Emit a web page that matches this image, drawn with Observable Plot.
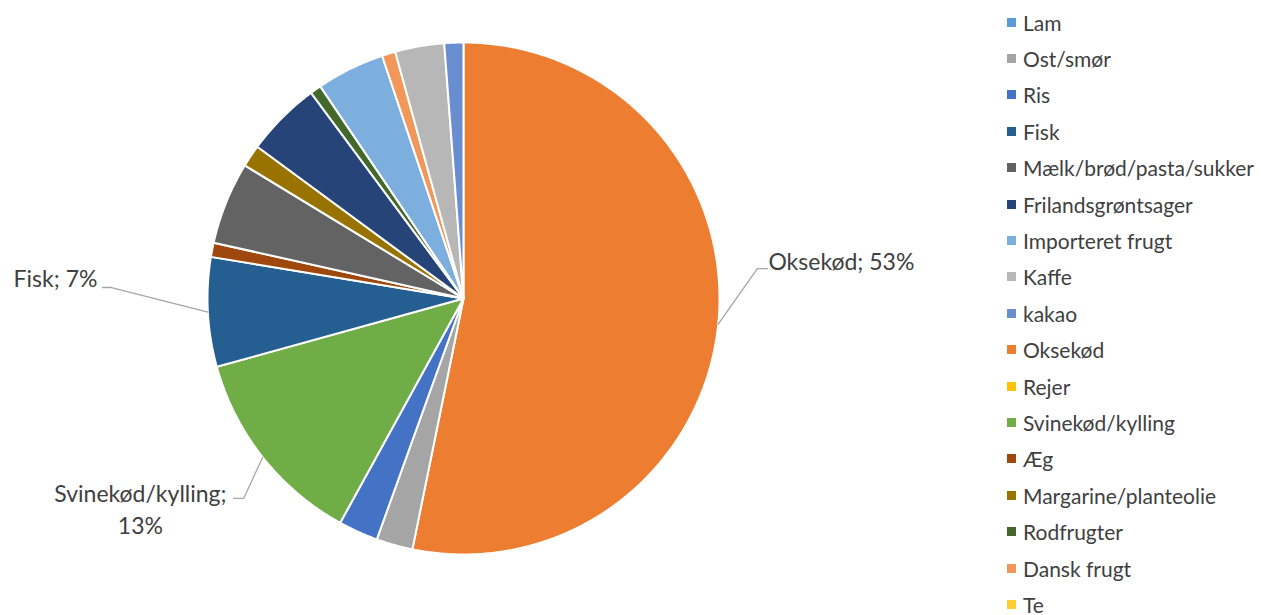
<!DOCTYPE html>
<html><head><meta charset="utf-8">
<script src="https://cdn.jsdelivr.net/npm/d3@7"></script>
<script src="https://cdn.jsdelivr.net/npm/@observablehq/plot@0.6"></script>
<style>
body{margin:0;background:#fff;}
#wrap{position:relative;width:1261px;height:615px;overflow:hidden;font-family:Lato,"Liberation Sans",sans-serif;}
#legend{position:absolute;left:1007px;top:4px;}
.item{display:flex;align-items:center;height:36.4px;color:#404040;font-size:21px;white-space:nowrap;}
.sw{width:9px;height:9px;margin-right:7px;flex:none;}
</style></head>
<body>
<div id="wrap"><div id="chart"></div><div id="legend"></div></div>
<script>
// Legend order (categories) and colours
const categories = ["Lam","Ost/smør","Ris","Fisk","Mælk/brød/pasta/sukker","Frilandsgrøntsager","Importeret frugt","Kaffe","kakao","Oksekød","Rejer","Svinekød/kylling","Æg","Margarine/planteolie","Rodfrugter","Dansk frugt","Te"];
const colors = ["#5B9BD5","#A5A5A5","#4472C4","#255E91","#636363","#264478","#7CAFDD","#B7B7B7","#698ED0","#ED7D31","#FFC000","#70AD47","#9E480E","#997300","#43682B","#F1975A","#FFCD33"];
// Slices in drawing order (clockwise from 12 o'clock) and their shares (%)
const sliceNames = ["Oksekød","Ost/smør","Ris","Svinekød/kylling","Fisk","Æg","Mælk/brød/pasta/sukker","Margarine/planteolie","Frilandsgrøntsager","Rodfrugter","Importeret frugt","Dansk frugt","Kaffe","kakao"];
const shares = [53.2,2.3,2.5,12.7,6.9,0.9,5.2,1.4,4.75,0.7,4.3,0.85,3.1,1.2];
const labelled = ["Oksekød","Fisk","Svinekød/kylling"];

// layout of data labels (pie-radius units)
const labelLayout = {
  "Oksekød": {elbow:[1.148,0.117], end:[1.1875,0.117], text:[1.191,0.141], anchor:"start", sep:" "},
  "Fisk": {elbow:[-1.379,0.043], end:[-1.410,0.043], text:[-1.430,0.074], anchor:"end", sep:" "},
  "Svinekød/kylling": {elbow:[-0.859,-0.781], end:[-0.898,-0.781], text:[-1.262,-0.818], anchor:"middle", sep:"\n"}
};

const total = d3.sum(shares);
const sliceRows = [];
const mids = {};
let acc = 0;
sliceNames.forEach((name, i) => {
  const a0 = acc / total * 360, a1 = (acc + shares[i]) / total * 360;
  acc += shares[i];
  mids[name] = (a0 + a1) / 2;
  sliceRows.push({name, x: 0, y: 0});
  const n = Math.max(2, Math.ceil((a1 - a0) / 0.5));
  for (let k = 0; k <= n; k++) {
    const a = (a0 + (a1 - a0) * k / n) * Math.PI / 180;
    sliceRows.push({name, x: Math.sin(a), y: Math.cos(a)});
  }
  sliceRows.push({name, x: 0, y: 0});
});

const leaderRows = [], textRows = [];
labelled.forEach(name => {
  const L = labelLayout[name];
  const a = mids[name] * Math.PI / 180;
  leaderRows.push({name, x: Math.sin(a), y: Math.cos(a)});
  leaderRows.push({name, x: L.elbow[0], y: L.elbow[1]});
  leaderRows.push({name, x: L.end[0], y: L.end[1]});
  const v = shares[sliceNames.indexOf(name)];
  textRows.push({name, x: L.text[0], y: L.text[1], anchor: L.anchor, label: name + ";" + L.sep + Math.round(v / total * 100) + "%"});
});

const R = 256, cx = 463, cy = 298, W = 1261, H = 615;
const font = "Lato, 'Liberation Sans', sans-serif";
const chart = Plot.plot({
  width: W, height: H, margin: 0,
  x: {domain: [-cx / R, (W - cx) / R], axis: null},
  y: {domain: [-(H - cy) / R, cy / R], axis: null},
  color: {domain: categories, range: colors},
  marks: [
    Plot.line(sliceRows, {x: "x", y: "y", z: "name", fill: "name", stroke: "white", strokeWidth: 2, strokeLinejoin: "round", curve: "linear"}),
    Plot.line(leaderRows, {x: "x", y: "y", z: "name", stroke: "#A6A6A6", strokeWidth: 1.3, curve: "linear"}),
    Plot.text(textRows.filter(d => d.anchor === "start"), {x: "x", y: "y", text: "label", textAnchor: "start", fontSize: 23, fill: "#404040", fontFamily: font}),
    Plot.text(textRows.filter(d => d.anchor === "end"), {x: "x", y: "y", text: "label", textAnchor: "end", fontSize: 23, fill: "#404040", fontFamily: font}),
    Plot.text(textRows.filter(d => d.anchor === "middle"), {x: "x", y: "y", text: "label", textAnchor: "middle", fontSize: 23, lineHeight: 1.36, fill: "#404040", fontFamily: font})
  ]
});
document.getElementById("chart").appendChild(chart);

const colorScale = chart.scale("color");
const legend = document.getElementById("legend");
colorScale.domain.forEach((name, i) => {
  const item = document.createElement("div");
  item.className = "item";
  const sw = document.createElement("span");
  sw.className = "sw";
  sw.style.background = colorScale.range[i];
  const t = document.createElement("span");
  t.textContent = name;
  item.appendChild(sw); item.appendChild(t);
  legend.appendChild(item);
});
</script>
</body></html>
